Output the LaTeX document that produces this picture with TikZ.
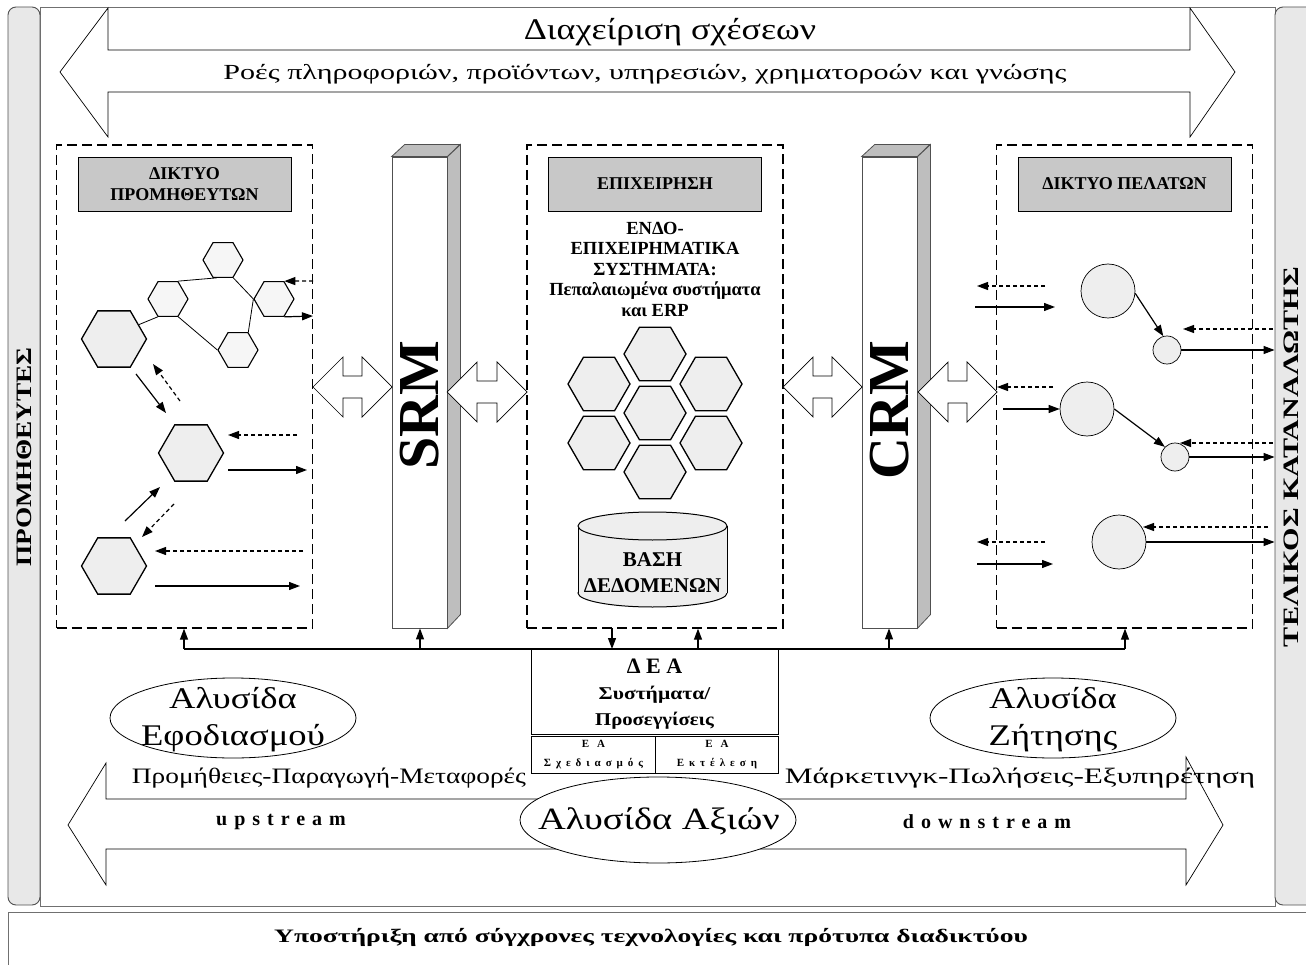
\documentclass[tikz,border=0pt]{standalone}
\usepackage{fontspec}
\usepackage{graphicx}
\setmainfont{Liberation Serif}
\newfontfamily\widefam[LetterSpace=35]{Liberation Serif}
\newfontfamily\xwidefam[LetterSpace=45]{Liberation Serif}
\usetikzlibrary{arrows.meta,shapes.geometric}
\definecolor{bargray}{HTML}{E8E8E8}
\definecolor{hdrgray}{HTML}{C8C8C8}
\definecolor{sidegray}{HTML}{BEBEBE}
\definecolor{hexgray}{HTML}{EEEEEE}
\definecolor{hexlight}{HTML}{F6F6F6}
\definecolor{edgegray}{HTML}{505050}
\definecolor{framegray}{HTML}{707070}
\newcommand{\dblarr}[3]{%
  \draw[blockarrow] (#1,#2) -- ++(30,-30) -- ++(0,19) -- ++(#3,0) -- ++(0,-19) -- ++(30,30)
    -- ++(-30,30) -- ++(0,-19) -- ++(-#3,0) -- ++(0,19) -- cycle;}
\tikzset{
  sidebar/.style={draw=edgegray, fill=bargray, rounded corners=8pt, line width=0.9pt, inner sep=0pt},
  frame/.style={draw=framegray, line width=0.9pt},
  dbox/.style={draw, dash pattern=on 10pt off 5pt, line width=1.3pt, minimum width=256, minimum height=483, inner sep=0pt},
  hdr/.style={draw, fill=hdrgray, line width=0.9pt, minimum width=213, minimum height=54, inner sep=0pt, align=center, font=\bfseries\fontsize{18}{21}\selectfont},
  bighex/.style={regular polygon, regular polygon sides=6, draw, line width=1.3pt, fill=hexgray, minimum size=65, inner sep=0pt},
  smallhex/.style={bighex, fill=hexlight, minimum size=40, line width=1.1pt},
  clhex/.style={bighex, minimum size=62},
  circ/.style={circle, draw, line width=0.7pt, fill=hexgray, inner sep=0pt},
  sarr/.style={-{Triangle[length=11pt,width=8pt]}, line width=1.2pt},
  darr/.style={sarr, dash pattern=on 4pt off 3pt},
  link/.style={line width=0.8pt},
  blockarrow/.style={draw, fill=white, line width=0.7pt},
  bar3d/.style={draw=edgegray, fill=white, line width=0.8pt, minimum width=55, minimum height=471, inner sep=0pt},
  face/.style={draw=edgegray, fill=sidegray, line width=0.8pt},
  ell/.style={ellipse, draw, line width=0.8pt, fill=white, inner sep=0pt},
  bus/.style={line width=1.1pt},
  cell/.style={draw, line width=0.9pt, inner sep=0pt, align=center},
}
\begin{document}
\begin{tikzpicture}[x=1pt,y=-1pt]
\useasboundingbox (0,0) rectangle (1306,965);
\fill[white] (0,0) rectangle (1306,965);
% frames
\draw[frame] (40,7) rectangle (1275,906);
\node[sidebar, minimum width=32, minimum height=898] (lbar) at (24,456) {};
\node[sidebar, minimum width=45, minimum height=898] (rbar) at (1297.5,456) {};
\node[rotate=90, xscale=1.24, font=\bfseries\fontsize{22}{24}\selectfont] (lbartxt) at (24,457) {ΠΡΟΜΗΘΕΥΤΕΣ};
\node[rotate=90, xscale=1.37, font=\bfseries\fontsize{22}{24}\selectfont] (rbartxt) at (1291,457) {ΤΕΛΙΚΟΣ ΚΑΤΑΝΑΛΩΤΗΣ};
\draw[frame] (8,912) rectangle (1330,990);
\node[xscale=1.45, font=\bfseries\fontsize{19}{23}\selectfont] (support) at (651,937) {Υποστήριξη από σύγχρονες τεχνολογίες και πρότυπα διαδικτύου};
% top double arrow
\draw[blockarrow] (60,72) -- (108,8) -- (108,50) -- (1190,50) -- (1190,8) -- (1235,72) -- (1190,137) -- (1190,92) -- (108,92) -- (108,137) -- cycle;
\node[xscale=1.2, font=\fontsize{30}{36}\selectfont] (title) at (670,32) {Διαχείριση σχέσεων};
\node[xscale=1.4, font=\fontsize{21.5}{25}\selectfont] (flows) at (645,74) {Ροές πληροφοριών, προϊόντων, υπηρεσιών, χρηματοροών και γνώσης};
% dashed boxes
\node[dbox] (lbox) at (184.5,386.5) {};
\node[dbox] (cbox) at (655,386.5) {};
\node[dbox] (rbox) at (1124.5,386.5) {};
\node[hdr] (lhdr) at (184.5,184) {ΔΙΚΤΥΟ\\ΠΡΟΜΗΘΕΥΤΩΝ};
\node[hdr] (chdr) at (655,184) {ΕΠΙΧΕΙΡΗΣΗ};
\node[hdr] (rhdr) at (1124.5,184) {ΔΙΚΤΥΟ ΠΕΛΑΤΩΝ};
% SRM / CRM bars
\node[bar3d] (srm) at (419.5,392.5) {};
\draw[face] (srm.north east) -- ++(13,-12) -- ++(0,470) -- (srm.south east) -- cycle;
\draw[face] (srm.north west) -- ++(13,-12) -- ++(55,0) -- (srm.north east) -- cycle;
\node[rotate=90, font=\bfseries\fontsize{58}{60}\selectfont] (srmtxt) at (420,405) {SRM};
\node[bar3d] (crm) at (889.5,392.5) {};
\draw[face] (crm.north east) -- ++(13,-12) -- ++(0,470) -- (crm.south east) -- cycle;
\draw[face] (crm.north west) -- ++(13,-12) -- ++(55,0) -- (crm.north east) -- cycle;
\node[rotate=90, font=\bfseries\fontsize{58}{60}\selectfont] (crmtxt) at (890,410) {CRM};
% double block arrows
\dblarr{313}{387}{19}
\dblarr{447}{392}{20}
\dblarr{783}{387}{19}
\dblarr{918}{392}{19}
% supplier network
\node[bighex] (h1) at (114,339) {};
\node[smallhex] (s1) at (168,299) {};
\node[smallhex] (s2) at (223,260) {};
\node[smallhex] (s3) at (274,299) {};
\node[smallhex] (s4) at (238,350) {};
\node[bighex] (hm) at (191,453) {};
\node[bighex] (hb) at (114,566) {};
\draw[link] (h1.30) -- (s1.240);
\draw[link] (s1.60) -- (s2.250);
\draw[link] (s2.300) -- (s3.180);
\draw[link] (s3.180) -- (s4.60);
\draw[link] (s1.300) -- (s4.180);
\coordinate (p1) at (313,281);
\coordinate (p2) at (313,316);
\draw[darr] (p1) -- (s3.60);
\draw[sarr] (s3.300) -- (p2);
\coordinate (q1) at (136,374); \coordinate (q2) at (166,413);
\coordinate (q3) at (180,401); \coordinate (q4) at (153,364);
\draw[sarr] (q1) -- (q2);
\draw[darr] (q3) -- (q4);
\coordinate (m1) at (297,435); \coordinate (m2) at (228,435);
\coordinate (m3) at (228,470); \coordinate (m4) at (307,470);
\draw[darr] (m1) -- (m2);
\draw[sarr] (m3) -- (m4);
\coordinate (r1) at (125,521); \coordinate (r2) at (160,487);
\coordinate (r3) at (174,504); \coordinate (r4) at (142,537);
\draw[sarr] (r1) -- (r2);
\draw[darr] (r3) -- (r4);
\coordinate (t1) at (303,551); \coordinate (t2) at (155,551);
\coordinate (t3) at (155,586); \coordinate (t4) at (300,586);
\draw[darr] (t1) -- (t2);
\draw[sarr] (t3) -- (t4);
% enterprise
\node[align=center, font=\bfseries\fontsize{18.5}{20.5}\selectfont] (intra) at (655,269) {ΕΝΔΟ-\\ΕΠΙΧΕΙΡΗΜΑΤΙΚΑ\\ΣΥΣΤΗΜΑΤΑ:\\Πεπαλαιωμένα συστήματα\\και ERP};
\node[clhex] (e1) at (655,354) {};
\node[clhex] (e2) at (599,384) {};
\node[clhex] (e3) at (711,384) {};
\node[clhex] (e4) at (655,413) {};
\node[clhex] (e5) at (599,443) {};
\node[clhex] (e6) at (711,443) {};
\node[clhex] (e7) at (655,472) {};
\draw[draw=black, fill=hexgray, line width=1pt] (652.5,593) ellipse [x radius=74.5, y radius=14];
\fill[hexgray] (578,526) rectangle (727,593);
\draw[line width=1pt] (578,526) -- (578,593) (727,526) -- (727,593);
\draw[draw=black, fill=hexgray, line width=1pt] (652.5,526) ellipse [x radius=74.5, y radius=14];
\node[align=center, font=\bfseries\fontsize{21}{26}\selectfont] (db) at (652.5,573) {ΒΑΣΗ\\ΔΕΔΟΜΕΝΩΝ};
% customer network
\node[circ, minimum size=54] (c1) at (1108,291) {};
\node[circ, minimum size=28] (d1) at (1167,350) {};
\node[circ, minimum size=54] (c2) at (1087,409) {};
\node[circ, minimum size=28] (d2) at (1175,457) {};
\node[circ, minimum size=54] (c3) at (1119,542) {};
\draw[sarr] (c1.-5) -- (d1.105);
\draw[sarr] (c2.0) -- (d2.135);
\coordinate (u1) at (1273,329); \coordinate (u2) at (1183,329);
\draw[darr] (u1) -- (u2);
\draw[sarr] (d1.east) -- (d1.east -| rbar.west);
\coordinate (u3) at (1273,443); \coordinate (u4) at (1180,443);
\draw[darr] (u3) -- (u4);
\draw[sarr] (d2.east) -- (d2.east -| rbar.west);
\coordinate (u5) at (1268,527); \coordinate (u6) at (1143,527);
\draw[darr] (u5) -- (u6);
\draw[sarr] (c3.east) -- (c3.east -| rbar.west);
\coordinate (v1) at (1045,286); \coordinate (v2) at (977,286);
\coordinate (v3) at (975,307); \coordinate (v4) at (1055,307);
\draw[darr] (v1) -- (v2);
\draw[sarr] (v3) -- (v4);
\coordinate (v5) at (1053,387); \coordinate (v6) at (997,387);
\coordinate (v7) at (1003,409);
\draw[darr] (v5) -- (v6);
\draw[sarr] (v7) -- (c2.west);
\coordinate (v9) at (1045,542); \coordinate (v10) at (977,542);
\coordinate (v11) at (977,564); \coordinate (v12) at (1053,564);
\draw[darr] (v9) -- (v10);
\draw[sarr] (v11) -- (v12);
% bus and DEA
\coordinate (busL) at (184,649);
\coordinate (busR) at (1125,649);
\draw[bus] (busL) -- (busR);
\node[cell, minimum width=247, minimum height=85, anchor=north west] (dea) at (531,649) {};
\node[align=center, font=\bfseries\fontsize{18}{26}\selectfont] (deatxt) at (654.5,694) {{\fontsize{22}{26}\selectfont Δ Ε Α}\\\scalebox{1.2}[1]{Συστήματα/}\\\scalebox{1.15}[1]{Προσεγγίσεις}};
\node[cell, minimum width=124, minimum height=37, anchor=north west, font=\bfseries\fontsize{11}{19}\selectfont] (ea1) at (531,736) {{\xwidefam Ε Α}\\{\xwidefam Σχεδιασμός}};
\node[cell, minimum width=123, minimum height=37, anchor=north west, font=\bfseries\fontsize{11}{19}\selectfont] (ea2) at (655,736) {{\xwidefam Ε Α}\\{\xwidefam Εκτέλεση}};
\draw[sarr] (busL) -- (busL |- lbox.south);
\coordinate (b2) at (420,649); \draw[sarr] (b2) -- (b2 |- srm.south);
\coordinate (b3) at (612,628); \draw[sarr] (b3) -- (b3 |- busL);
\coordinate (b4) at (698,649); \draw[sarr] (b4) -- (b4 |- cbox.south);
\coordinate (b5) at (889,649); \draw[sarr] (b5) -- (b5 |- crm.south);
\draw[sarr] (busR) -- (busR |- rbox.south);
% chains
\node[ell, minimum width=246, minimum height=80] (supply) at (233,718) {};
\node[align=center, xscale=1.22, font=\fontsize{30}{37}\selectfont] (supplytxt) at (233,720) {Αλυσίδα\\Εφοδιασμού};
\node[ell, minimum width=246, minimum height=80] (demand) at (1053,718) {};
\node[align=center, xscale=1.22, font=\fontsize{30}{37}\selectfont] (demandtxt) at (1053,720) {Αλυσίδα\\Ζήτησης};
\draw[blockarrow] (68,825) -- (106,763) -- (106,799) -- (600,799) -- (600,849) -- (106,849) -- (106,885) -- cycle;
\draw[blockarrow] (720,799) -- (1186,799) -- (1186,757) -- (1223,825) -- (1186,885) -- (1186,849) -- (720,849) -- cycle;
\node[ell, minimum width=276, minimum height=86] (value) at (658,820) {};
\node[xscale=1.24, font=\fontsize{31}{36}\selectfont] (valuetxt) at (659,821) {Αλυσίδα Αξιών};
\node[xscale=1.245, font=\fontsize{22}{26}\selectfont] (upproc) at (329,778) {Προμήθειες-Παραγωγή-Μεταφορές};
\node[xscale=1.42, font=\fontsize{22}{26}\selectfont] (downproc) at (1020,778) {Μάρκετινγκ-Πωλήσεις-Εξυπηρέτηση};
\node[font=\bfseries\fontsize{20}{24}\selectfont] (up) at (281,822) {\widefam upstream};
\node[font=\bfseries\fontsize{20}{24}\selectfont] (down) at (987,822) {\widefam downstream};
\end{tikzpicture}
\end{document}
